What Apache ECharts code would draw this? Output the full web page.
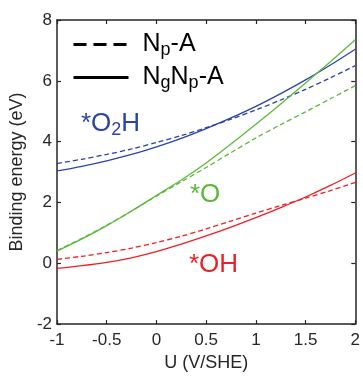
<!DOCTYPE html>
<html><head><meta charset="utf-8">
<script src="https://cdn.jsdelivr.net/npm/echarts@6/dist/echarts.min.js"></script>
<style>html,body{margin:0;padding:0;background:#fff}#c{width:363px;height:377px}</style>
</head><body><div id="c"></div>
<script>
// Potential U (V/SHE)
const U = [-1, -0.75, -0.5, -0.25, 0, 0.25, 0.5, 0.75, 1, 1.25, 1.5, 1.75, 2];
// *O2H
const o2hNgNp = [3.04, 3.19, 3.37, 3.58, 3.83, 4.11, 4.43, 4.78, 5.16, 5.58, 6.03, 6.52, 7.04];
const o2hNp   = [3.28, 3.42, 3.58, 3.76, 3.97, 4.20, 4.46, 4.74, 5.04, 5.37, 5.72, 6.10, 6.50];
// *O
const oNgNp = [0.40, 0.80, 1.24, 1.72, 2.23, 2.74, 3.30, 3.92, 4.57, 5.24, 5.93, 6.63, 7.35];
const oNp   = [0.42, 0.82, 1.25, 1.72, 2.21, 2.68, 3.15, 3.64, 4.12, 4.56, 4.98, 5.41, 5.84];
// *OH
const ohNgNp = [-0.17, -0.08, 0.03, 0.18, 0.38, 0.63, 0.90, 1.19, 1.50, 1.83, 2.18, 2.56, 2.97];
const ohNp   = [0.13, 0.23, 0.35, 0.50, 0.68, 0.89, 1.13, 1.39, 1.65, 1.90, 2.14, 2.39, 2.66];

const xTicks = {min: -1, max: 2, interval: 0.5};
const yTicks = {min: -2, max: 8, interval: 2};

const FONT = '"Liberation Sans", Arial, Helvetica, sans-serif';
const AX = '#262626';
const BLUE = '#2b42a8', GREEN = '#5cb83a', RED = '#ee1f24';

function curve(name, vals, color, dashed) {
  return {
    type: 'line', name: name, silent: true, symbol: 'none', smooth: 0.3,
    data: U.map((u, i) => [u, vals[i]]),
    lineStyle: {color: color, width: 1.3, type: dashed ? [5, 3] : 'solid'},
    itemStyle: {color: color}
  };
}

const richLeg = {
  f: {fontSize: 25, fontFamily: FONT, color: '#000', lineHeight: 30, padding: [0, 0, 0, 9]},
  n: {fontSize: 25, fontFamily: FONT, color: '#000', lineHeight: 30},
  s: {fontSize: 18, fontFamily: FONT, color: '#000', lineHeight: 19, verticalAlign: 'bottom'}
};
function legendFor(name, top, fmt) {
  return {
    data: [name], left: 72, top: top, padding: 0, itemWidth: 55, itemHeight: 14,
    selectedMode: false, itemStyle: {opacity: 0}, lineStyle: {width: 3},
    formatter: () => fmt, textStyle: {rich: richLeg}
  };
}
function annot(text, x, y, color) {
  const r = {
    a: {fontSize: 26, fontFamily: FONT, fill: color, lineHeight: 30},
    s: {fontSize: 18, fontFamily: FONT, fill: color, lineHeight: 19, verticalAlign: 'bottom'}
  };
  return {type: 'text', x: x, y: y, silent: true,
    style: {text: text, fill: color, font: '26px ' + FONT, align: 'left', verticalAlign: 'middle', rich: r}};
}

function axisCommon() {
  return {
    axisLine: {show: true, onZero: false, lineStyle: {color: AX, width: 1.5}},
    axisTick: {show: true, inside: true, length: 4, lineStyle: {color: AX, width: 1.2}},
    splitLine: {show: false}
  };
}

const chart = echarts.init(document.getElementById('c'), null, {renderer: 'canvas'});
chart.setOption({
  animation: false,
  backgroundColor: '#fff',
  grid: {left: 55, right: 5, top: 20, bottom: 51, containLabel: false},
  xAxis: [
    Object.assign({type: 'value', position: 'bottom', min: xTicks.min, max: xTicks.max, interval: xTicks.interval,
      name: 'U (V/SHE)', nameLocation: 'middle', nameGap: 26,
      nameTextStyle: {fontSize: 18, fontFamily: FONT, color: AX},
      axisLabel: {fontSize: 17, fontFamily: FONT, color: AX, margin: 8}}, axisCommon()),
    Object.assign({type: 'value', position: 'top', min: xTicks.min, max: xTicks.max, interval: xTicks.interval,
      axisLabel: {show: false}}, axisCommon())
  ],
  yAxis: [
    Object.assign({type: 'value', position: 'left', min: yTicks.min, max: yTicks.max, interval: yTicks.interval,
      name: 'Binding energy (eV)', nameLocation: 'middle', nameGap: 19, nameRotate: 90,
      nameTextStyle: {fontSize: 18, fontFamily: FONT, color: AX},
      axisLabel: {fontSize: 17, fontFamily: FONT, color: AX, margin: 5}}, axisCommon()),
    Object.assign({type: 'value', position: 'right', min: yTicks.min, max: yTicks.max, interval: yTicks.interval,
      axisLabel: {show: false}}, axisCommon())
  ],
  legend: [
    legendFor('Np-A', 32, '{f|N}{s|p}{n|-A}'),
    legendFor('NgNp-A', 65, '{f|N}{s|g}{n|N}{s|p}{n|-A}')
  ],
  graphic: [
    annot('{a|*O}{s|2}{a|H}', 81, 124, BLUE),
    annot('{a|*O}', 190, 195, GREEN),
    annot('{a|*OH}', 189, 265, RED)
  ],
  series: [
    {type: 'line', name: 'Np-A', data: [], symbol: 'none', lineStyle: {color: '#000', width: 3, type: [13, 7]}, itemStyle: {color: '#000'}},
    {type: 'line', name: 'NgNp-A', data: [], symbol: 'none', lineStyle: {color: '#000', width: 3, type: 'solid'}, itemStyle: {color: '#000'}},
    curve('O2H NgNp-A', o2hNgNp, BLUE, false),
    curve('O2H Np-A', o2hNp, BLUE, true),
    curve('O NgNp-A', oNgNp, GREEN, false),
    curve('O Np-A', oNp, GREEN, true),
    curve('OH NgNp-A', ohNgNp, RED, false),
    curve('OH Np-A', ohNp, RED, true)
  ]
});
</script></body></html>
